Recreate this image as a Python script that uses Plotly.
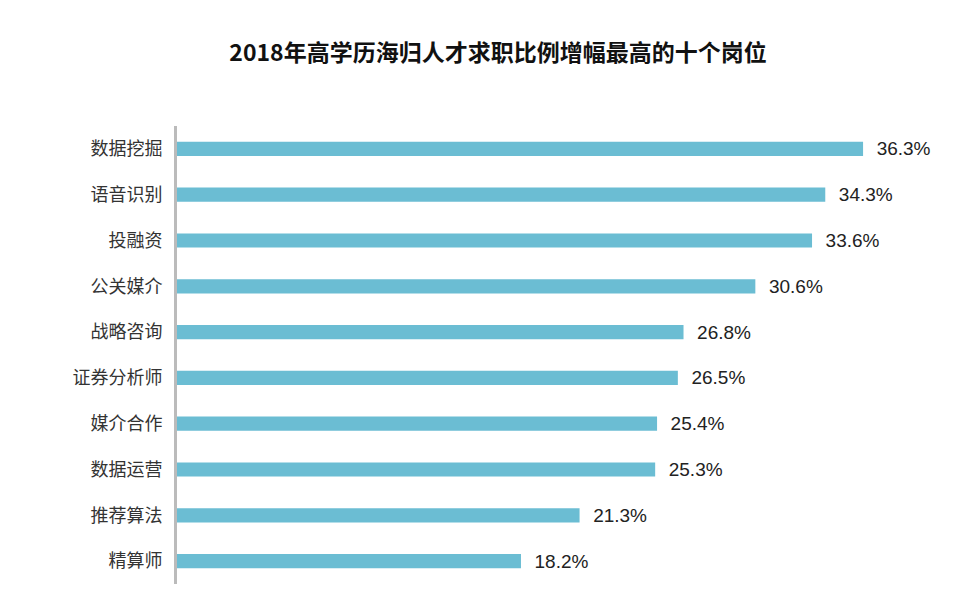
import plotly.graph_objects as go

categories = ["数据挖掘","语音识别","投融资","公关媒介","战略咨询","证券分析师","媒介合作","数据运营","推荐算法","精算师"]
values = [36.3,34.3,33.6,30.6,26.8,26.5,25.4,25.3,21.3,18.2]
labels = [f"  {v:.1f}%" for v in values]

fig = go.Figure(go.Bar(
    x=values, y=categories, orientation="h",
    marker=dict(color="#6bbdd3", line=dict(width=0)),
    width=0.31, text=labels, textposition="outside", cliponaxis=False,
    constraintext="none",
    textfont=dict(family="Liberation Sans, Arial", size=19, color="#222"),
))
fig.update_layout(
    width=980, height=611, plot_bgcolor="white", paper_bgcolor="white",
    margin=dict(l=169, r=55, t=118, b=35, autoexpand=False),
    title=dict(text="2018年高学历海归人才求职比例增幅最高的十个岗位", x=0.5, xanchor="center",
               y=0.926, yanchor="middle", yref="container",
               font=dict(family="Noto Sans CJK SC", size=23, color="#111", weight="bold")),
    showlegend=False,
)
fig.update_xaxes(range=[0,40], visible=False)
fig.update_yaxes(autorange="reversed", showline=True, linecolor="#bbbbbb", linewidth=3,
                 ticks="", ticklabelstandoff=8,
                 tickfont=dict(family="Noto Sans CJK SC", size=18, color="#333"))
fig.write_html("out.html")
